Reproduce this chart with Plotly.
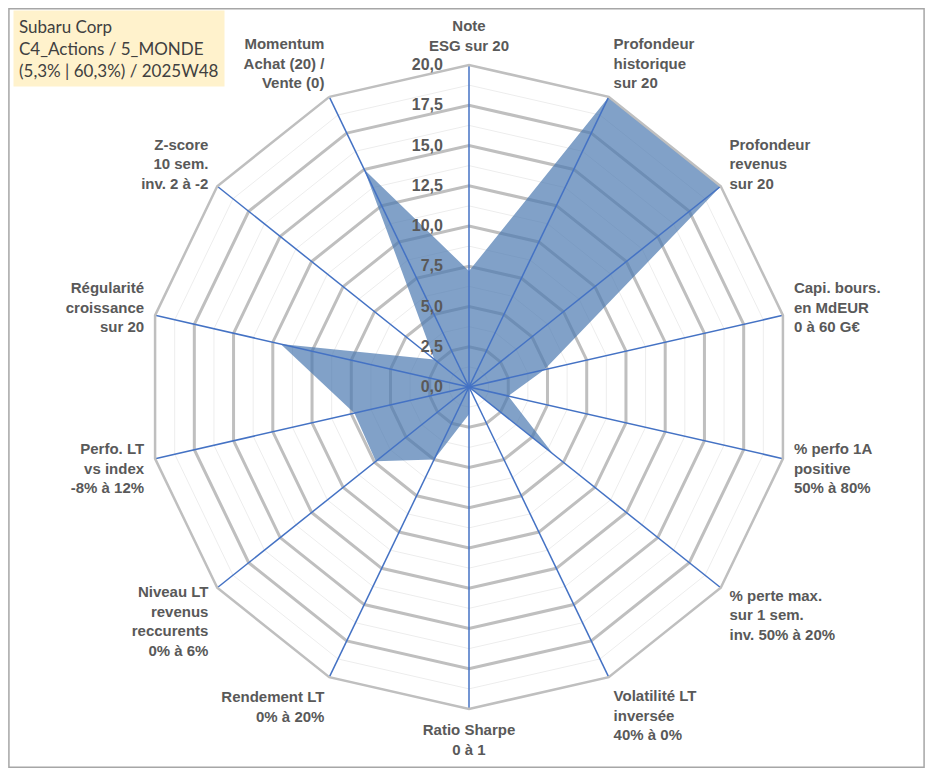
import plotly.graph_objects as go

categories = [
    "Note<br>ESG sur 20",
    "Profondeur<br>historique<br>sur 20",
    "Profondeur<br>revenus<br>sur 20",
    "Capi. bours.<br>en MdEUR<br>0 à 60 G€",
    "% perfo 1A<br>positive<br>50% à 80%",
    "% perte max.<br>sur 1 sem.<br>inv. 50% à 20%",
    "Volatilité LT<br>inversée<br>40% à 0%",
    "Ratio Sharpe<br>0 à 1",
    "Rendement LT<br>0% à 20%",
    "Niveau LT<br>revenus<br>reccurents<br>0% à 6%",
    "Perfo. LT<br>vs index<br>-8% à 12%",
    "Régularité<br>croissance<br>sur 20",
    "Z-score<br>10 sem.<br>inv. 2 à -2",
    "Momentum<br>Achat (20) /<br>Vente (0)",
]
values = [7.2, 20, 20, 4.8, 2.5, 6.7, 0, 1.7, 5.0, 7.4, 7.3, 12.0, 2.75, 15.0]

major_ticks = [0, 2.5, 5, 7.5, 10, 12.5, 15, 17.5, 20]
minor_levels = [1.25, 3.75, 6.25, 8.75, 11.25, 13.75, 16.25, 18.75]
r_max = 20

title_lines = ["Subaru Corp", "C4_Actions / 5_MONDE", "(5,3% | 60,3%) / 2025W48"]

fig = go.Figure()

# minor gridlines
for lv in minor_levels:
    fig.add_trace(go.Scatterpolar(
        r=[lv] * (len(categories) + 1),
        theta=categories + [categories[0]],
        mode="lines",
        line=dict(color="#EDEDED", width=1),
        hoverinfo="skip", showlegend=False,
    ))

# data polygon
fig.add_trace(go.Scatterpolar(
    r=values + [values[0]],
    theta=categories + [categories[0]],
    mode="lines",
    fill="toself",
    fillcolor="rgba(76,121,176,0.70)",
    line=dict(color="rgba(76,121,176,0.0)", width=0.5),
    showlegend=False,
    name="Subaru Corp",
))

# spokes drawn above the fill
sp_theta, sp_r = [], []
for c in categories:
    sp_theta += [c, c, None]
    sp_r += [0, r_max, None]
fig.add_trace(go.Scatterpolar(
    r=sp_r, theta=sp_theta, mode="lines",
    line=dict(color="#4472C4", width=1.5),
    hoverinfo="skip", showlegend=False, connectgaps=False,
))

# the page body adds an 8px offset; figure coordinates = page - 8
W, H = 917, 760
cx, cy, rad = 461, 379, 322

fig.update_layout(
    width=W, height=H,
    margin=dict(l=0, r=0, t=0, b=0),
    paper_bgcolor="white",
    separators=", ",
    showlegend=False,
    polar=dict(
        domain=dict(x=[(cx - rad) / W, (cx + rad) / W],
                    y=[(H - cy - rad) / H, (H - cy + rad) / H]),
        gridshape="linear",
        bgcolor="white",
        radialaxis=dict(
            range=[0, r_max],
            tickvals=major_ticks,
            tickformat=".1f",
            angle=90,
            side="counterclockwise",
            tickangle=90,
            showline=False,
            ticks="outside",
            ticklen=20,
            tickcolor="rgba(0,0,0,0)",
            gridcolor="#BFBFBF",
            gridwidth=2.5,
            tickfont=dict(family="Liberation Sans", size=16, color="#595959", weight="bold"),
        ),
        angularaxis=dict(
            direction="clockwise",
            rotation=90,
            showgrid=False,
            showline=True,
            linecolor="#BFBFBF",
            linewidth=2.5,
            ticks="outside",
            ticklen=7,
            tickcolor="rgba(0,0,0,0)",
            tickfont=dict(family="Liberation Sans", size=15, color="#595959", weight="bold"),
        ),
    ),
    annotations=[dict(
        x=5 / W, y=1 - 2 / H, xref="paper", yref="paper",
        xanchor="left", yanchor="top", align="left",
        text="<br>".join(title_lines),
        showarrow=False,
        bgcolor="#FFF2CC",
        borderpad=5,
        font=dict(family="Lato", size=17, color="#404040"),
    )],
    shapes=[dict(
        type="rect", xref="paper", yref="paper",
        x0=0.001, x1=0.999, y0=0.001, y1=0.999,
        line=dict(color="#A6A6A6", width=1.5),
    )],
)

fig.write_html("out.html")
